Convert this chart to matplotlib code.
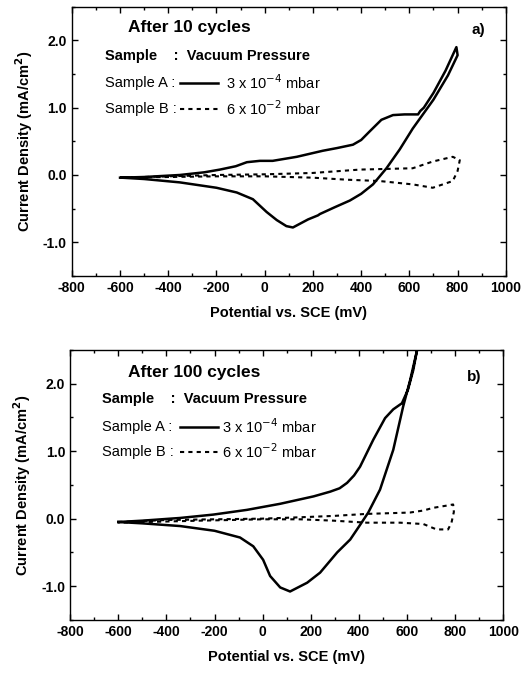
import matplotlib.pyplot as plt
from matplotlib.ticker import MultipleLocator

plt.rcParams['axes.unicode_minus'] = False

# a) after 10 cycles -- sample A (solid), closed loop
a10_x = [-600, -500, -352, -250, -186, -120, -74, -20, 33, 133, 241, 300, 366, 400, 436,
         484, 532, 580, 636, 645, 660, 700, 750, 795,
         800, 760, 700, 614, 560, 505, 449, 400, 353, 290, 229, 221, 180, 117, 90, 50,
         8, -49, -116, -200, -352, -500, -594]
a10_y = [-0.04, -0.03, 0.0, 0.04, 0.08, 0.13, 0.19, 0.21, 0.21, 0.27, 0.36, 0.40, 0.45, 0.52, 0.65,
         0.82, 0.89, 0.90, 0.90, 0.95, 1.00, 1.22, 1.55, 1.90,
         1.78, 1.48, 1.12, 0.69, 0.38, 0.10, -0.14, -0.28, -0.38, -0.48, -0.58, -0.60, -0.66, -0.78, -0.76, -0.67,
         -0.55, -0.36, -0.26, -0.19, -0.11, -0.06, -0.04]

# a) after 10 cycles -- sample B (dashed)
b10_x = [-600, -400, -200, 0, 199, 394, 614, 697, 780, 809,
         800, 780, 697, 614, 477, 340, 199, 0, -200, -400, -594]
b10_y = [-0.04, -0.02, 0.0, 0.01, 0.03, 0.08, 0.10, 0.20, 0.27, 0.22,
         0.06, -0.09, -0.19, -0.14, -0.09, -0.07, -0.04, -0.02, -0.02, -0.03, -0.04]

# b) after 100 cycles -- sample A (solid)
a100_x = [-600, -500, -343, -205, -65, 73, 212, 281, 320, 351, 380, 405, 460, 509, 543,
          579, 604, 626, 642,
          650, 613, 584, 543, 488, 439, 400, 364, 310, 239, 185, 114, 73, 31,
          2, -39, -94, -200, -343, -500, -600]
a100_y = [-0.05, -0.03, 0.01, 0.06, 0.13, 0.22, 0.33, 0.40, 0.45, 0.53, 0.64, 0.77, 1.17, 1.49, 1.62,
          1.71, 1.91, 2.20, 2.50,
          2.62, 2.05, 1.66, 1.02, 0.43, 0.09, -0.12, -0.31, -0.50, -0.80, -0.95, -1.08, -1.02, -0.85,
          -0.61, -0.41, -0.28, -0.18, -0.11, -0.07, -0.05]

# b) after 100 cycles -- sample B (dashed)
b100_x = [-600, -399, -200, 0, 155, 294, 432, 612, 668, 709, 760, 792,
          795, 785, 771, 723, 668, 571, 432, 294, 155, 0, -260, -600]
b100_y = [-0.05, -0.02, -0.01, 0.0, 0.02, 0.04, 0.07, 0.09, 0.12, 0.16, 0.19, 0.21,
          0.10, -0.06, -0.16, -0.16, -0.08, -0.06, -0.06, -0.03, -0.01, -0.01, -0.03, -0.06]

panels = [
    dict(pos=[0.136, 0.590, 0.822, 0.400], sa=(a10_x, a10_y), sb=(b10_x, b10_y),
         title="After 10 cycles", tag="a)",
         tx=0.129, ty=0.922, gx=0.92, gy=0.915, lx=0.076, hy=0.818, ay=0.717, by=0.621,
         l0=0.249, l1=0.336, vx=0.355),
    dict(pos=[0.133, 0.079, 0.820, 0.401], sa=(a100_x, a100_y), sb=(b100_x, b100_y),
         title="After 100 cycles", tag="b)",
         tx=0.134, ty=0.918, gx=0.917, gy=0.900, lx=0.074, hy=0.818, ay=0.715, by=0.622,
         l0=0.254, l1=0.342, vx=0.351),
]

fig = plt.figure(figsize=(5.28, 6.73), dpi=100)
plt.rcParams['font.family'] = ['Liberation Sans', 'DejaVu Sans']

for p in panels:
    ax = fig.add_axes(p["pos"])
    ax.plot(p["sa"][0], p["sa"][1], color='black', lw=1.8, solid_joinstyle='round')
    ax.plot(p["sb"][0], p["sb"][1], color='black', lw=1.5, dashes=(2, 2))

    ax.set_xlim(-800, 1000)
    ax.set_ylim(-1.5, 2.5)
    ax.xaxis.set_major_locator(MultipleLocator(200))
    ax.xaxis.set_minor_locator(MultipleLocator(100))
    ax.yaxis.set_minor_locator(MultipleLocator(0.5))
    ax.set_yticks([-1.0, 0.0, 1.0, 2.0])
    ax.set_yticklabels(["-1.0", "0.0", "1.0", "2.0"])
    ax.tick_params(which='both', direction='in', top=True, right=True, labelsize=10)
    ax.tick_params(which='major', length=4, width=1)
    ax.tick_params(which='minor', length=2.5, width=1)
    for lab in ax.get_xticklabels() + ax.get_yticklabels():
        lab.set_fontweight('bold')
    for s in ax.spines.values():
        s.set_linewidth(1.0)

    ax.set_xlabel("Potential vs. SCE (mV)", fontsize=10.5, fontweight='bold', labelpad=8)
    ax.set_ylabel("Current Density (mA/cm$^\\mathbf{2}$)", fontsize=10.5, fontweight='bold', labelpad=6)

    ax.text(p["tx"], p["ty"], p["title"], transform=ax.transAxes, fontsize=12.5,
            fontweight='bold', va='center')
    ax.text(p["gx"], p["gy"], p["tag"], transform=ax.transAxes, fontsize=11,
            fontweight='bold', va='center')
    ax.text(p["lx"], p["hy"], "Sample    :  Vacuum Pressure", transform=ax.transAxes,
            fontsize=10.5, fontweight='bold', va='center')
    ax.text(p["lx"], p["ay"], "Sample A :", transform=ax.transAxes, fontsize=10.5, va='center')
    ax.text(p["lx"], p["by"], "Sample B :", transform=ax.transAxes, fontsize=10.5, va='center')
    ax.plot([p["l0"], p["l1"]], [p["ay"], p["ay"]], transform=ax.transAxes, color='black', lw=1.8)
    ax.plot([p["l0"], p["l1"]], [p["by"], p["by"]], transform=ax.transAxes, color='black',
            lw=1.5, dashes=(2, 2))
    ax.text(p["vx"], p["ay"], "3 x 10$^{-4}$ mbar", transform=ax.transAxes, fontsize=10.5, va='center')
    ax.text(p["vx"], p["by"], "6 x 10$^{-2}$ mbar", transform=ax.transAxes, fontsize=10.5, va='center')

fig.savefig("out.png", dpi=100)
